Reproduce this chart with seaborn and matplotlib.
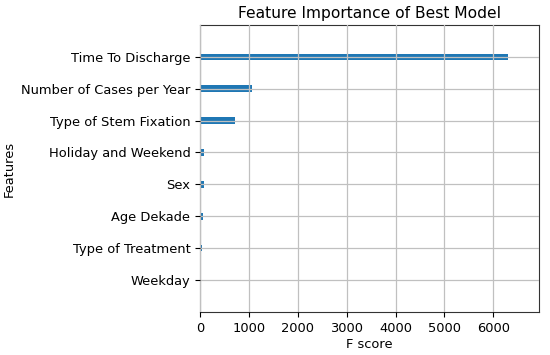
import matplotlib
matplotlib.use('Agg')
import matplotlib.pyplot as plt
import seaborn as sns
import pandas as pd

# feature importance values (F score)
features = ['Time To Discharge', 'Number of Cases per Year', 'Type of Stem Fixation',
            'Holiday and Weekend', 'Sex', 'Age Dekade', 'Type of Treatment', 'Weekday']
f_scores = [6305, 1055, 720, 88, 82, 55, 40, 18]
x_ticks = [0, 1000, 2000, 3000, 4000, 5000, 6000]

df = pd.DataFrame({'feature': features, 'score': f_scores})

plt.rcParams['font.family'] = ['DejaVu Sans']
fig = plt.figure(figsize=(5.5, 3.55), dpi=100)
ax = fig.add_axes([0.364, 0.121, 0.616, 0.809])

sns.barplot(data=df, x='score', y='feature', order=features, orient='h',
            width=0.2, color='#1f77b4', saturation=1, ax=ax)

ax.set_xlim(0, max(f_scores) * 1.1)
ax.set_ylim(len(features), -1)
ax.set_xticks(x_ticks)
ax.grid(True, color='#c0c0c0', linewidth=0.9)
ax.set_axisbelow(False)
for s in ax.spines.values():
    s.set_color('#333333')

ax.set_title('Feature Importance of Best Model', fontsize=11.2, pad=5)
ax.set_xlabel('F score', fontsize=9.4, labelpad=2)
ax.set_ylabel('Features', fontsize=9.4)
ax.yaxis.set_label_coords(-0.545, 0.5)
ax.tick_params(labelsize=9.4)

fig.savefig('out.png', dpi=100)
